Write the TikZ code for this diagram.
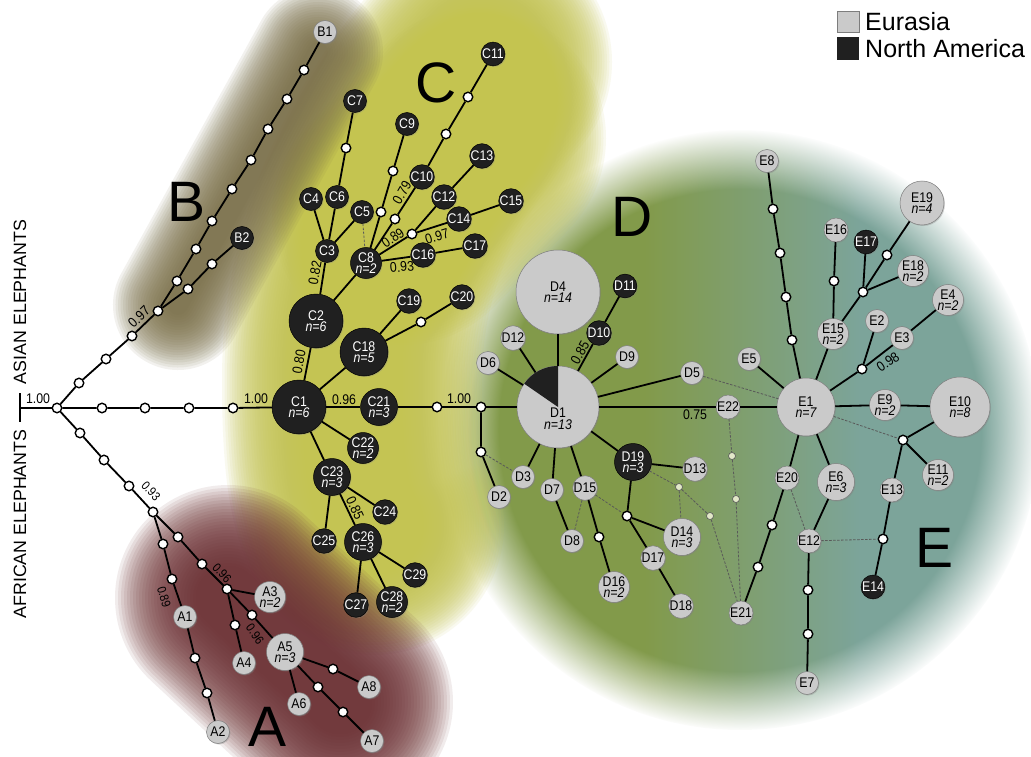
\documentclass[tikz,border=0pt]{standalone}
\usepackage{fontspec}
\setmainfont{Liberation Sans}
\newfontfamily\nodefont[FakeStretch=0.88]{Liberation Sans}
\usetikzlibrary{fadings,shadows}
\definecolor{eugray}{RGB}{202,202,202}
\definecolor{eudraw}{RGB}{125,125,125}
\definecolor{nablack}{RGB}{32,32,32}
\definecolor{paleg}{RGB}{226,232,200}
\definecolor{cyel}{RGB}{196,196,80}
\definecolor{bbrown}{RGB}{120,108,68}
\definecolor{amar}{RGB}{108,48,52}
\definecolor{dgreen}{RGB}{130,154,74}
\definecolor{eteal}{RGB}{124,164,154}
\pgfdeclarehorizontalshading{deshade}{100bp}{color(0bp)=(dgreen); color(42bp)=(dgreen); color(60bp)=(eteal); color(100bp)=(eteal)}
\tikzset{
  base/.style={circle, inner sep=0pt, align=center, font=\nodefont\fontsize{14}{11.5}\selectfont},
  eu/.style={base, fill=eugray, draw=eudraw, line width=0.5pt, text=black,
    drop shadow={shadow xshift=1pt, shadow yshift=-1pt, opacity=0.35}},
  na/.style={base, fill=nablack, draw=black, line width=0.5pt, text=white,
    drop shadow={shadow xshift=1pt, shadow yshift=-1pt, opacity=0.35}},
  hs/.style={minimum size=23pt},
  h2/.style={minimum size=31pt},
  h3/.style={minimum size=37pt},
  h4/.style={minimum size=44pt},
  h5/.style={minimum size=48pt},
  h6/.style={minimum size=54pt},
  h7/.style={minimum size=58pt},
  h8/.style={minimum size=60pt},
  h13/.style={minimum size=82pt},
  h14/.style={minimum size=84pt},
  mut/.style={circle, fill=white, draw=black, line width=1.4pt, minimum size=9.5pt, inner sep=0pt},
  pale/.style={circle, fill=paleg, draw=gray!70!black, line width=0.6pt, minimum size=7pt, inner sep=0pt},
  lnk/.style={draw=black, line width=1.8pt},
  hyb/.style={draw=black!65, line width=0.8pt, dash pattern=on 2.5pt off 1.5pt},
  elab/.style={font=\nodefont\fontsize{14}{14}\selectfont, inner sep=0pt},
  elabs/.style={font=\nodefont\fontsize{12.5}{12.5}\selectfont, inner sep=0pt},
  bigl/.style={font=\fontsize{57}{57}\selectfont, inner sep=0pt},
  sidel/.style={font=\fontsize{17.8}{17.8}\selectfont, inner sep=0pt, rotate=90},
  legt/.style={font=\fontsize{25}{25}\selectfont, inner sep=0pt, anchor=base west}
}
\begin{document}
\begin{tikzpicture}[x=1pt,y=-1pt]
\useasboundingbox (0,0) rectangle (1031,757);
\fill[white] (0,0) rectangle (1031,757);
% ---------- background regions ----------
\shade[shading=deshade, path fading=circle with fuzzy edge 20 percent] (740,430) circle (300pt);
\foreach \w in {260,255,...,100} {
  \draw[cyel, line width=\w pt, opacity=0.09, line cap=round, line join=round]
    (482,62) .. controls (425,125) and (352,230) .. (352,380) .. controls (352,470) and (360,505) .. (374,525);
  \draw[cyel, line width=\w pt, opacity=0.09, line cap=round] (402,215) -- (476,138);
}
\foreach \w in {130,125,...,20} {
  \draw[bbrown, line width=\w pt, opacity=0.09, line cap=round] (178,305) -- (318,52);
}
\foreach \w in {226,220,...,64} {
  \draw[amar, line width=\w pt, opacity=0.09, line cap=round] (228,598) -- (340,702);
}
% ---------- big letters, side labels, legend ----------
\node[bigl] (LA) at (268,727) {A};
\node[bigl] (LB) at (187,202) {B};
\node[bigl] (LC) at (436,83) {C};
\node[bigl] (LD) at (632,217) {D};
\node[bigl] (LE) at (934,548) {E};
\node[sidel] (asian) at (20,302) {ASIAN ELEPHANTS};
\node[sidel] (african) at (20,524) {AFRICAN ELEPHANTS};
\node[rectangle, fill=eugray, draw=eudraw, line width=0.4pt, minimum width=22pt, minimum height=21.5pt, inner sep=0pt] (legE) at (848,21.5) {};
\node[rectangle, fill=nablack, minimum width=22pt, minimum height=22.5pt, inner sep=0pt] (legN) at (848,48.5) {};
\node[legt] (legEt) at (865,30.7) {Eurasia};
\node[legt] (legNt) at (865,57.3) {North America};
% ---------- root tick ----------
\coordinate (tk) at (20,408);
\coordinate (tkt) at (20,393);
\coordinate (tkb) at (20,422);
% ---------- mutation (median) nodes ----------
\foreach \n/\x/\y in {root/57/408, wm1/102/408, wm2/145/408, wm3/189/408, wm4/233/408,
  wu1/79/383, wu2/106/359, wu3/132/336, wu4/158/311,
  wb1/177/281, wb2/196/249, wb3/212/221, wb4/232/189, wb5/251/160, wb6/268/129, wb7/287/99, wb8/304/70,
  wb9/188/289, wb10/212/264,
  wl1/80/433, wl2/104/460, wl3/129/486, wl4/153/512,
  wa1/163/544, wa2/172/579, wa3/195/658, wa4/207/693,
  wa5/178/537, wa6/202/564, wa7/227/589, wa8/235/625, wa9/252/615,
  wa10/318/687, wa11/343/712, wa12/333/669,
  wc1/346/148, wc2/381/212, wc3/393/171, wc4/395/219, wc5/446/134, wc6/468/97, wc7/412/234,
  wc8/421/322, wc9/437/407, wc10/481/407,
  wd1/481/452, wd2/599/537, wd3/627/516,
  we1/792/340, we2/786/297, we3/780/253, we4/773/209, we5/863/292, we6/834/281, we7/887/255,
  we8/862/369, we9/903/440, we10/883/539, we11/772/525, we12/758/567, we13/808/590, we14/808/634}
  {\node[mut] (\n) at (\x,\y) {};}
\foreach \n/\x/\y in {p1/679/487, p2/710/516, p3/732/456, p4/736/499}
  {\node[pale] (\n) at (\x,\y) {};}
% ---------- haplotypes A, B ----------
\node[eu,hs] (A1) at (185,617) {A1};
\node[eu,hs] (A2) at (218,732) {A2};
\node[eu,h2] (A3) at (270,597) {A3\\\itshape n=2};
\node[eu,hs] (A4) at (244,663) {A4};
\node[eu,h3] (A5) at (285,652) {A5\\\itshape n=3};
\node[eu,hs] (A6) at (299,704) {A6};
\node[eu,hs] (A7) at (372,741) {A7};
\node[eu,hs] (A8) at (369,687) {A8};
\node[eu,hs] (B1) at (325,32) {B1};
\node[na,hs] (B2) at (242,238) {B2};
% ---------- haplotypes C ----------
\node[na,h6] (C1) at (299,407) {C1\\\itshape n=6};
\node[na,h6] (C2) at (316,321) {C2\\\itshape n=6};
\node[na,hs] (C3) at (327,251) {C3};
\node[na,hs] (C4) at (311,199) {C4};
\node[na,hs] (C5) at (362,212) {C5};
\node[na,hs] (C6) at (337,197) {C6};
\node[na,hs] (C7) at (355,101) {C7};
\node[na,h2] (C8) at (366,263) {C8\\\itshape n=2};
\node[na,hs] (C9) at (407,124) {C9};
\node[na,hs] (C10) at (422,177) {C10};
\node[na,hs] (C11) at (493,54) {C11};
\node[na,hs] (C12) at (444,197) {C12};
\node[na,hs] (C13) at (482,156) {C13};
\node[na,hs] (C14) at (459,219) {C14};
\node[na,hs] (C15) at (511,201) {C15};
\node[na,hs] (C16) at (423,255) {C16};
\node[na,hs] (C17) at (475,246) {C17};
\node[na,h5] (C18) at (364,352) {C18\\\itshape n=5};
\node[na,hs] (C19) at (409,301) {C19};
\node[na,hs] (C20) at (462,297) {C20};
\node[na,h3] (C21) at (379,407) {C21\\\itshape n=3};
\node[na,h2] (C22) at (363,448) {C22\\\itshape n=2};
\node[na,h3] (C23) at (332,477) {C23\\\itshape n=3};
\node[na,hs] (C24) at (385,512) {C24};
\node[na,hs] (C25) at (324,541) {C25};
\node[na,h3] (C26) at (363,542) {C26\\\itshape n=3};
\node[na,hs] (C27) at (356,605) {C27};
\node[na,h2] (C28) at (392,602) {C28\\\itshape n=2};
\node[na,hs] (C29) at (415,575) {C29};
% ---------- haplotypes D ----------
\node[eu,h13] (D1) at (558,407) {};
\fill[nablack] (D1.center) -- ++(90:41pt) arc[start angle=90, end angle=145.4, radius=41pt] -- cycle;
\node[base, text=black] (D1t) at (558,419) {D1\\\itshape n=13};
\node[eu,hs] (D2) at (499,497) {D2};
\node[eu,hs] (D3) at (523,477) {D3};
\node[eu,h14] (D4) at (558,292) {D4\\\itshape n=14};
\node[eu,hs] (D5) at (692,373) {D5};
\node[eu,hs] (D6) at (488,363) {D6};
\node[eu,hs] (D7) at (552,490) {D7};
\node[eu,hs] (D8) at (572,541) {D8};
\node[eu,hs] (D9) at (627,357) {D9};
\node[na,hs] (D10) at (599,333) {D10};
\node[na,hs] (D11) at (625,286) {D11};
\node[eu,hs] (D12) at (513,338) {D12};
\node[eu,hs] (D13) at (695,469) {D13};
\node[eu,h3] (D14) at (682,537) {D14\\\itshape n=3};
\node[eu,hs] (D15) at (585,488) {D15};
\node[eu,h2] (D16) at (614,587) {D16\\\itshape n=2};
\node[eu,hs] (D17) at (653,558) {D17};
\node[eu,hs] (D18) at (681,606) {D18};
\node[na,h3] (D19) at (633,462) {D19\\\itshape n=3};
% ---------- haplotypes E ----------
\node[eu,h7] (E1) at (806,407) {E1\\\itshape n=7};
\node[eu,hs] (E2) at (877,321) {E2};
\node[eu,hs] (E3) at (902,338) {E3};
\node[eu,h2] (E4) at (948,300) {E4\\\itshape n=2};
\node[eu,hs] (E5) at (749,359) {E5};
\node[eu,h3] (E6) at (836,482) {E6\\\itshape n=3};
\node[eu,hs] (E7) at (807,683) {E7};
\node[eu,hs] (E8) at (767,161) {E8};
\node[eu,h2] (E9) at (885,405) {E9\\\itshape n=2};
\node[eu,h8] (E10) at (960,407) {E10\\\itshape n=8};
\node[eu,h2] (E11) at (938,475) {E11\\\itshape n=2};
\node[eu,hs] (E12) at (809,541) {E12};
\node[eu,hs] (E13) at (892,490) {E13};
\node[na,hs] (E14) at (873,587) {E14};
\node[eu,h2] (E15) at (833,334) {E15\\\itshape n=2};
\node[eu,hs] (E16) at (836,230) {E16};
\node[na,hs] (E17) at (866,242) {E17};
\node[eu,h2] (E18) at (913,271) {E18\\\itshape n=2};
\node[eu,h4] (E19) at (922,203) {E19\\\itshape n=4};
\node[eu,hs] (E20) at (787,478) {E20};
\node[eu,hs] (E21) at (741,613) {E21};
\node[eu,hs] (E22) at (728,407) {E22};
% ---------- connectors ----------
\draw[lnk] (tkt) -- (tkb);
\draw[lnk] (tk) -- (root);
\draw[lnk] (root) -- (wm1) -- (wm2) -- (wm3) -- (wm4) -- (C1);
\draw[lnk] (root) -- (wu1) -- (wu2) -- (wu3) -- (wu4);
\draw[lnk] (wu4) -- (wb1) -- (wb2) -- (wb3) -- (wb4) -- (wb5) -- (wb6) -- (wb7) -- (wb8) -- (B1);
\draw[lnk] (wu4) -- (wb9) -- (wb10) -- (B2);
\draw[lnk] (root) -- (wl1) -- (wl2) -- (wl3) -- (wl4);
\draw[lnk] (wl4) -- (wa1) -- (wa2) -- (A1) -- (wa3) -- (wa4) -- (A2);
\draw[lnk] (wl4) -- (wa5) -- (wa6) -- (wa7) -- (A3);
\draw[lnk] (wa7) -- (wa8) -- (A4);
\draw[lnk] (wa7) -- (wa9) -- (A5);
\draw[lnk] (A5) -- (A6);
\draw[lnk] (A5) -- (wa10) -- (wa11) -- (A7);
\draw[lnk] (A5) -- (wa12) -- (A8);
% C
\draw[lnk] (C1) -- (C2) -- (C3);
\draw[lnk] (C2) -- (C8);
\draw[lnk] (C3) -- (C4);
\draw[lnk] (C3) -- (C6) -- (wc1) -- (C7);
\draw[lnk] (C3) -- (C5);
\draw[hyb] (C5) -- (C8);
\draw[lnk] (C8) -- (wc2) -- (wc3) -- (C9);
\draw[lnk] (C8) -- (wc4) -- (C10) -- (wc5) -- (wc6) -- (C11);
\draw[lnk] (C8) -- (wc7) -- (C12) -- (C13);
\draw[lnk] (wc7) -- (C14) -- (C15);
\draw[lnk] (C8) -- (C16) -- (C17);
\draw[lnk] (C1) -- (C18) -- (C19);
\draw[lnk] (C18) -- (wc8) -- (C20);
\draw[lnk] (C1) -- (C21) -- (wc9) -- (wc10) -- (D1);
\draw[lnk] (C1) -- (C22);
\draw[lnk] (C1) -- (C23);
\draw[lnk] (C23) -- (C24);
\draw[lnk] (C23) -- (C25);
\draw[lnk] (C23) -- (C26);
\draw[lnk] (C26) -- (C27);
\draw[lnk] (C26) -- (C28);
\draw[lnk] (C26) -- (C29);
% D
\draw[lnk] (wc10) -- (wd1) -- (D2);
\draw[hyb] (wd1) -- (D3);
\draw[lnk] (D1) -- (D3);
\draw[lnk] (D1) -- (D7);
\draw[lnk] (D1) -- (D15);
\draw[lnk] (D1) -- (D6);
\draw[lnk] (D1) -- (D12);
\draw[lnk] (D1) -- (D4);
\draw[lnk] (D1) -- (D9);
\draw[lnk] (D1) -- (D5);
\draw[lnk] (D1) -- (D19);
\draw[lnk] (D1) -- (D10) -- (D11);
\draw[lnk] (D1) -- (E22) -- (E1);
\draw[lnk] (D7) -- (D8);
\draw[hyb] (D15) -- (D8);
\draw[lnk] (D15) -- (wd2) -- (D16);
\draw[hyb] (D15) -- (wd3);
\draw[lnk] (D19) -- (wd3) -- (D14);
\draw[lnk] (wd3) -- (D17) -- (D18);
\draw[lnk] (D19) -- (D13);
\draw[hyb] (D19) -- (p1) -- (D14);
\draw[hyb] (p1) -- (p2) -- (E21);
\draw[hyb] (E22) -- (p3) -- (p4) -- (E21);
\draw[hyb] (D5) -- (E1);
% E
\draw[lnk] (E1) -- (E5);
\draw[lnk] (E1) -- (we1) -- (we2) -- (we3) -- (we4) -- (E8);
\draw[lnk] (E1) -- (E15) -- (we5);
\draw[lnk] (E15) -- (we6) -- (E16);
\draw[lnk] (we5) -- (E17);
\draw[lnk] (we5) -- (E18);
\draw[lnk] (we5) -- (we7) -- (E19);
\draw[lnk] (E1) -- (we8) -- (E2);
\draw[lnk] (we8) -- (E3) -- (E4);
\draw[lnk] (E1) -- (E9) -- (E10);
\draw[lnk] (E10) -- (we9) -- (E11);
\draw[lnk] (we9) -- (E13) -- (we10) -- (E14);
\draw[hyb] (E1) -- (we9);
\draw[hyb] (E12) -- (we10);
\draw[lnk] (E1) -- (E6) -- (E12);
\draw[lnk] (E1) -- (E20);
\draw[hyb] (E20) -- (E12);
\draw[lnk] (E20) -- (we11) -- (we12) -- (E21);
\draw[lnk] (E12) -- (we13) -- (we14) -- (E7);
% ---------- support values ----------
\node[elab] (L1) at (38,399) {1.00};
\node[elab] (L2) at (256,399) {1.00};
\node[elab, rotate=44] (L3) at (139,317) {0.97};
\node[elabs, rotate=-47] (L4) at (151,491) {0.93};
\node[elabs, rotate=-73] (L5) at (164,597) {0.89};
\node[elabs, rotate=-47] (L6) at (222,573) {0.96};
\node[elabs, rotate=-55] (L7) at (255,634) {0.96};
\node[elab, rotate=80] (L8) at (299,362) {0.80};
\node[elab, rotate=80] (L9) at (315,273) {0.82};
\node[elab, rotate=60] (L10) at (402,193) {0.79};
\node[elab, rotate=35] (L11) at (393,238) {0.89};
\node[elab, rotate=17] (L12) at (437,236) {0.97};
\node[elab, rotate=5] (L13) at (402,267) {0.93};
\node[elab] (L14) at (344,400) {0.96};
\node[elab] (L15) at (459,399) {1.00};
\node[elab, rotate=-65] (L16) at (355,508) {0.85};
\node[elab, rotate=61] (L17) at (580,353) {0.85};
\node[elab] (L18) at (695,415) {0.75};
\node[elab, rotate=35] (L19) at (888,362) {0.98};
\end{tikzpicture}
\end{document}
